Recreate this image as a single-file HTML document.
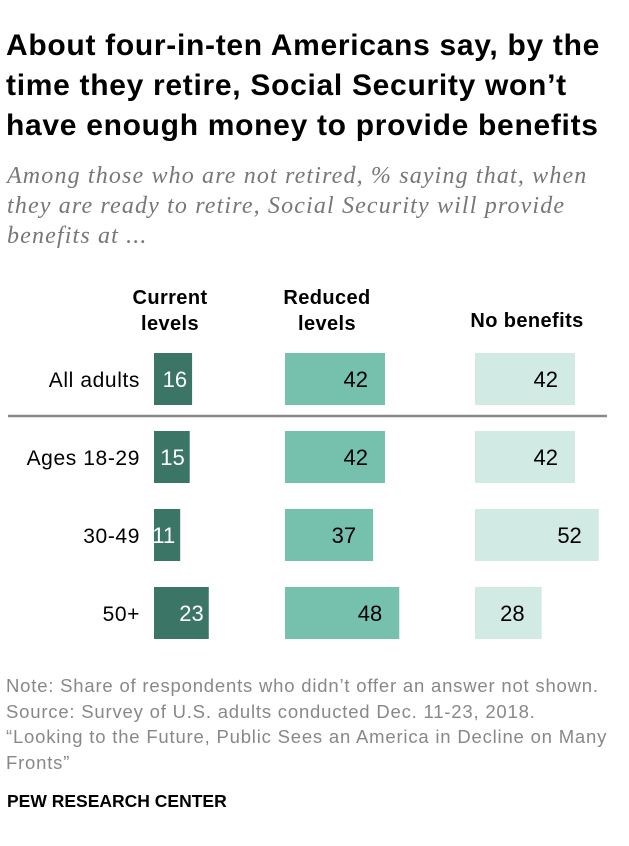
<!DOCTYPE html>
<html><head><meta charset="utf-8"><style>
body{margin:0;width:629px;height:846px;background:#fff;font-family:"Liberation Sans",sans-serif;position:relative;overflow:hidden}
.a{position:absolute;white-space:nowrap}
#title{left:6px;top:26px;font-size:30px;font-weight:bold;line-height:40px;color:#000;letter-spacing:0.7px}
#sub{left:7px;top:161px;font-family:"Liberation Serif",serif;font-style:italic;font-size:24px;line-height:30px;color:#777;letter-spacing:1.15px}
.hd{font-size:20px;font-weight:bold;text-align:center;line-height:26px;transform:translateX(-50%);letter-spacing:0.4px}
#notes{left:6px;top:673px;font-size:18.5px;line-height:25.5px;color:#888;letter-spacing:0.8px}
#pew{left:7px;top:791px;font-size:17.5px;font-weight:bold;color:#000}
</style></head><body>
<div class="a" id="title">About four-in-ten Americans say, by the<br>time they retire, Social Security won’t<br>have enough money to provide benefits</div>
<div class="a" id="sub">Among those who are not retired, % saying that, when<br>they are ready to retire, Social Security will provide<br>benefits at ...</div>
<div class="a hd" style="left:170px;top:285px">Current<br>levels</div>
<div class="a hd" style="left:327px;top:285px">Reduced<br>levels</div>
<div class="a hd" style="left:527px;top:308px">No benefits</div>
<svg id="chart" class="a" style="left:0;top:0" width="629" height="846"></svg>
<div class="a" id="notes">Note: Share of respondents who didn’t offer an answer not shown.<br>Source: Survey of U.S. adults conducted Dec. 11-23, 2018.<br>“Looking to the Future, Public Sees an America in Decline on Many<br>Fronts”</div>
<div class="a" id="pew">PEW RESEARCH CENTER</div>
<script>
const categories=["All adults","Ages 18-29","30-49","50+"];
const current=[16,15,11,23];
const reduced=[42,42,37,48];
const none=[42,42,52,28];
const ns="http://www.w3.org/2000/svg";
const svg=document.getElementById('chart');
const scale=100/42;
const colX=[154,285,475];
const colors=["#3a7566","#76c0ae","#d1eae4"];
const txtCol=["#fff","#000","#000"];
const pad=[5,17,17];
const series=[current,reduced,none];
function rowY(i){return 353+i*78;}
categories.forEach((c,i)=>{
  const t=document.createElementNS(ns,'text');
  
  
  t.setAttribute('x',140);t.setAttribute('y',rowY(i)+34);
  t.setAttribute('text-anchor','end');t.setAttribute('font-size','21');
  t.setAttribute('letter-spacing','0.6');
  t.setAttribute('font-family','Liberation Sans, sans-serif');
  t.textContent=c;svg.appendChild(t);
  series.forEach((s,k)=>{
    const w=s[i]*scale;
    const r=document.createElementNS(ns,'rect');
    
    
    r.setAttribute('x',colX[k]);r.setAttribute('y',rowY(i));
    r.setAttribute('width',w);r.setAttribute('height',52);
    r.setAttribute('fill',colors[k]);svg.appendChild(r);
    const v=document.createElementNS(ns,'text');
    
    
    v.setAttribute('x',colX[k]+w-pad[k]);v.setAttribute('y',rowY(i)+34);
    v.setAttribute('text-anchor','end');v.setAttribute('font-size','22');
    v.setAttribute('font-family','Liberation Sans, sans-serif');
    v.setAttribute('fill',txtCol[k]);v.textContent=s[i];svg.appendChild(v);
  });
});
const l=document.createElementNS(ns,'line');


l.setAttribute('x1',8);l.setAttribute('x2',607);l.setAttribute('y1',416);l.setAttribute('y2',416);
l.setAttribute('stroke','#888');l.setAttribute('stroke-width','2.5');svg.appendChild(l);
</script>
</body></html>
